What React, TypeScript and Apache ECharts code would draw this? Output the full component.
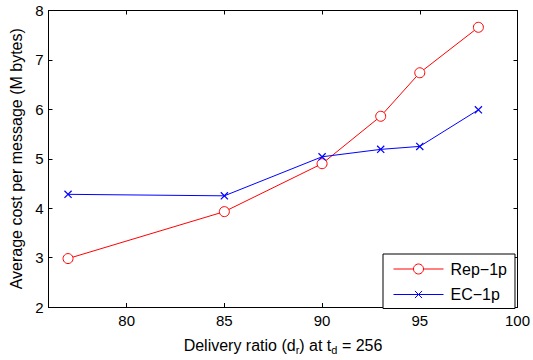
import React, { useEffect, useRef } from "react";
import * as echarts from "echarts";

const xValues = [77, 85, 90, 93, 95, 98];
const repValues = [2.98, 3.93, 4.9, 5.86, 6.74, 7.66];
const ecValues = [4.28, 4.25, 5.04, 5.19, 5.25, 5.99];
const xTicks = [80, 85, 90, 95, 100];
const seriesNames = ["Rep\u22121p", "EC\u22121p"];

const FONT = "Liberation Sans";

export default function App() {
  const ref = useRef<HTMLDivElement>(null);
  useEffect(() => {
    if (!ref.current) return;
    const chart = echarts.init(ref.current, null, { renderer: "svg" });
    const axisLine = { show: true, lineStyle: { color: "#000", width: 1 } };
    const tick = { show: true, inside: true, length: 4, lineStyle: { color: "#000" } };
    const label = { color: "#000", fontFamily: FONT, fontSize: 15 };
    // padded cross so the visible "x" is 10/14 of the symbol box
    const crossPath = "path://M-2,-2M0,0L10,10M10,0L0,10M12,12";
    chart.setOption({
      animation: false,
      backgroundColor: "#fff",
      grid: { left: 48.5, right: 14.7, top: 10.5, bottom: 52.3, containLabel: false },
      xAxis: [
        {
          type: "value", min: 76, max: 100,
          axisLine, axisTick: { ...tick, customValues: xTicks }, splitLine: { show: false },
          axisLabel: { ...label, margin: 6, customValues: xTicks },
          name: "{a|Delivery ratio (d}{s|r}{a|) at t}{s|d}{a| = 256}",
          nameLocation: "middle", nameGap: 28,
          nameTextStyle: {
            rich: {
              a: { fontFamily: FONT, fontSize: 16, color: "#000" },
              s: { fontFamily: FONT, fontSize: 11, color: "#000", verticalAlign: "bottom", padding: [9, 0, 0, 0] },
            },
          },
        },
        {
          type: "value", min: 76, max: 100, position: "top",
          axisLine, axisTick: { ...tick, customValues: xTicks },
          axisLabel: { show: false }, splitLine: { show: false },
        },
      ],
      yAxis: [
        {
          type: "value", min: 2, max: 8, interval: 1,
          axisLine, axisTick: tick, splitLine: { show: false },
          axisLabel: { ...label, margin: 5 },
          name: "Average cost per message (M bytes)",
          nameLocation: "middle", nameGap: 24,
          nameTextStyle: { fontFamily: FONT, fontSize: 16, color: "#000" },
        },
        {
          type: "value", min: 2, max: 8, interval: 1, position: "right",
          axisLine, axisTick: tick, axisLabel: { show: false }, splitLine: { show: false },
        },
      ],
      legend: {
        orient: "vertical",
        left: 383, top: 254,
        padding: [7, 8, 6, 10],
        itemGap: 9.5,
        itemWidth: 50, itemHeight: 12.5,
        borderColor: "#000", borderWidth: 1,
        backgroundColor: "#fff",
        lineStyle: { width: 1 },
        itemStyle: { borderWidth: 1 },
        textStyle: { fontFamily: FONT, fontSize: 16, color: "#000", padding: [0, 0, 0, 2] },
        data: seriesNames,
      },
      series: [
        {
          name: seriesNames[0], type: "line",
          data: xValues.map((x, i) => [x, repValues[i]]),
          lineStyle: { color: "#ff0000", width: 1 },
          itemStyle: { color: "#fff", borderColor: "#ff0000", borderWidth: 1 },
          symbol: "circle", symbolSize: 10, showAllSymbol: true,
        },
        {
          name: seriesNames[1], type: "line",
          data: xValues.map((x, i) => [x, ecValues[i]]),
          lineStyle: { color: "#0000ff", width: 1 },
          itemStyle: { color: "none", borderColor: "#0000ff", borderWidth: 1.2 },
          symbol: crossPath, symbolSize: 10, showAllSymbol: true,
        },
      ],
    });
    return () => chart.dispose();
  }, []);
  return (
    <div
      ref={ref}
      style={{ position: "fixed", left: 0, top: 0, width: 533, height: 360, background: "#fff" }}
    />
  );
}
